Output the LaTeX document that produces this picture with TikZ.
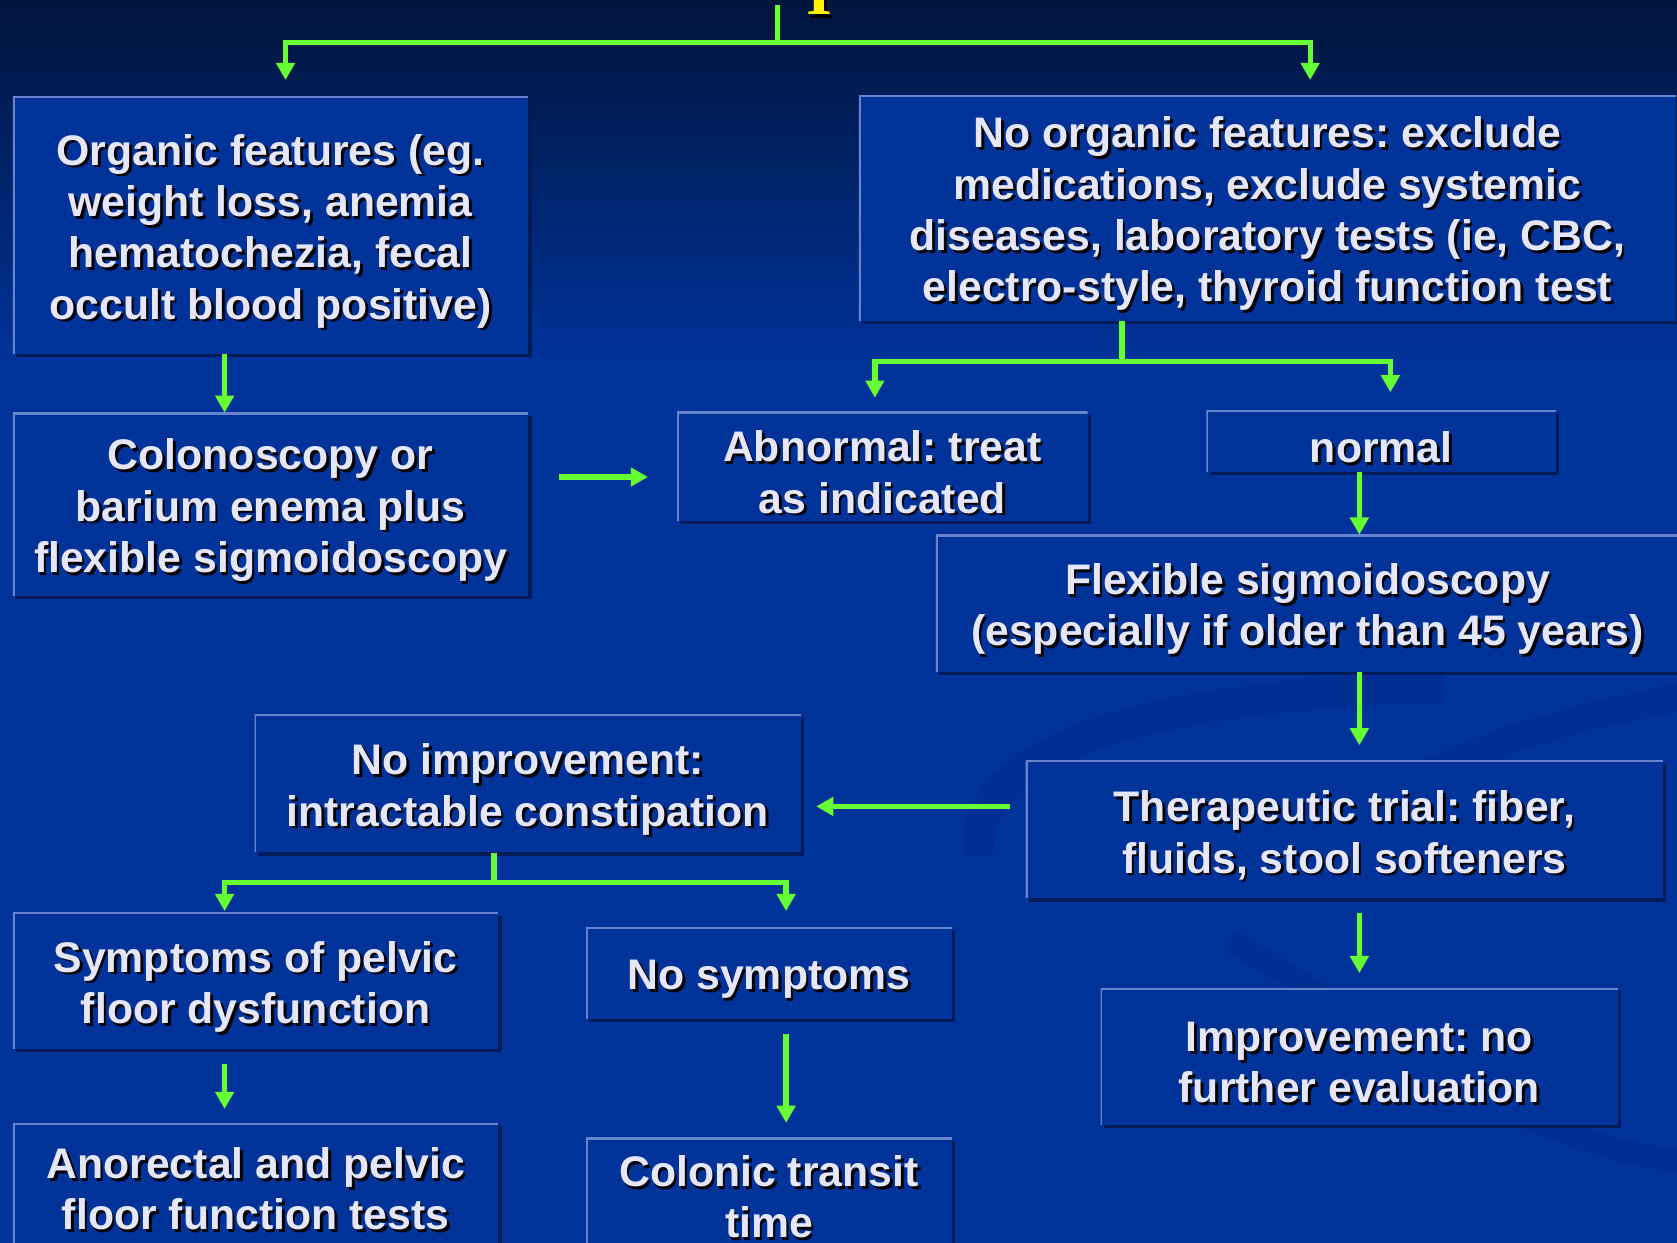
\documentclass[tikz,border=0pt]{standalone}
\usepackage{fontspec}
\setmainfont{Liberation Sans}
\newfontfamily\titlefont{Liberation Serif}
\usetikzlibrary{arrows.meta,shadows}
\frenchspacing

\definecolor{bgtop}{RGB}{0,20,60}
\definecolor{bgblue}{RGB}{0,51,153}
\definecolor{boxblue}{RGB}{0,51,153}
\definecolor{boxedge}{RGB}{104,132,204}
\definecolor{boxshade}{RGB}{0,28,88}
\definecolor{swirl}{RGB}{0,47,145}
\definecolor{flowgreen}{RGB}{102,255,51}
\definecolor{boxtxt}{RGB}{230,230,250}

\tikzset{
  boxfill/.style={fill=boxblue, inner sep=0pt,
    drop shadow={shadow xshift=3pt, shadow yshift=-3pt, fill=boxshade, opacity=1},
    path picture={\draw[boxedge, line width=3.5pt]
      (path picture bounding box.south west) -- (path picture bounding box.north west)
      -- (path picture bounding box.north east);}},
  boxtext/.style={text=boxtxt, align=center, inner sep=0pt,
    font=\bfseries\fontsize{40}{48}\selectfont},
  flow/.style={flowgreen, line width=5pt, -{Triangle[length=16pt,width=17pt]}},
}

% name, centre, width, height, text
\newcommand{\chartbox}[5]{%
  \node[boxfill, minimum width=#3, minimum height=#4] (#1) at (#2) {};
  \node[boxtext, text=black] at ([xshift=2.5pt,yshift=-8pt]#1.center) {#5};
  \node[boxtext] at ([yshift=-5.5pt]#1.center) {#5};
}

\begin{document}
\begin{tikzpicture}[x=1pt,y=-1pt]
  \useasboundingbox (0,0) rectangle (1568,1162);
  % background
  \fill[bgblue] (0,0) rectangle (1568,1162);
  \shade[top color=bgtop, bottom color=bgblue] (0,0) rectangle (1568,340);
  \draw[swirl, line width=30pt] (915,800) .. controls (905,690) and (1100,650) .. (1350,642);
  \draw[swirl, line width=26pt] (1330,725) .. controls (1420,685) and (1500,662) .. (1590,650);
  \draw[swirl, line width=22pt] (1150,880) .. controls (1300,960) and (1380,1060) .. (1590,1090);

  % title fragment
  \node[text=black, inner sep=0pt, anchor=base, font=\titlefont\bfseries\fontsize{62}{62}\selectfont] at (769,17) {I};
  \node[text=yellow, inner sep=0pt, anchor=base, font=\titlefont\bfseries\fontsize{62}{62}\selectfont] (title) at (766,14) {I};

  % boxes
  \chartbox{organic}{253,210.5}{482pt}{241pt}{Organic features (eg.\\weight loss, anemia\\hematochezia, fecal\\occult blood positive)}
  \chartbox{noorganic}{1185,194.5}{764pt}{211pt}{No organic features: exclude\\medications, exclude systemic\\diseases, laboratory tests (ie, CBC,\\electro-style, thyroid function test}
  \chartbox{colon}{253,471.5}{482pt}{171pt}{Colonoscopy or\\barium enema plus\\flexible sigmoidoscopy}
  \chartbox{abnormal}{825,436}{384pt}{102pt}{Abnormal: treat\\as indicated}
  \chartbox{normal}{1291.5,412.5}{327pt}{58pt}{normal}
  \chartbox{flexsig}{1222.5,564}{695pt}{128pt}{Flexible sigmoidoscopy\\(especially if older than 45 years)}
  \chartbox{trial}{1257,775.5}{596pt}{129pt}{Therapeutic trial: fiber,\\fluids, stool softeners}
  \chartbox{improve}{1271,988}{484pt}{128pt}{Improvement: no\\further evaluation}
  \chartbox{noimprove}{493.5,732.5}{511pt}{129pt}{No improvement:\\intractable constipation}
  \chartbox{pelvic}{239,917}{454pt}{128pt}{Symptoms of pelvic\\floor dysfunction}
  \chartbox{nosymptoms}{719,910}{342pt}{86pt}{No symptoms}
  \chartbox{anorectal}{239,1106}{454pt}{112pt}{Anorectal and pelvic\\floor function tests}
  \chartbox{transit}{719,1113.5}{342pt}{99pt}{Colonic transit\\time}

  % connectors
  \coordinate (start) at (727,5);
  \draw[flow] (start) -- ++(0,35) -| ([xshift=14pt,yshift=15pt]organic.north);
  \draw[flow] (start) -- ++(0,35) -| ([xshift=40pt,yshift=14pt]noorganic.north);
  \draw[flow] ([xshift=-43pt]organic.south) -- ([xshift=-43pt]colon.north);
  \coordinate (cd) at ([yshift=-10pt]abnormal.west);
  \draw[flow, shorten <=28pt, shorten >=27pt] (colon.east |- cd) -- (cd);
  \draw[flow] ([xshift=-136pt]noorganic.south) -- ++(0,38) -| ([xshift=-7pt,yshift=13pt]abnormal.north);
  \draw[flow] ([xshift=-136pt]noorganic.south) -- ++(0,38) -| ([xshift=8.5pt,yshift=16.5pt]normal.north);
  \draw[flow] ([xshift=-20.5pt]normal.south) -- ([xshift=48.5pt]flexsig.north);
  \draw[flow, shorten >=14pt] ([xshift=48.5pt]flexsig.south) -- ([xshift=14pt]trial.north);
  \draw[flow, shorten <=13pt, shorten >=14pt] ([xshift=14pt]trial.south) -- (improve.north);
  \coordinate (gi) at ([yshift=21.5pt]trial.west);
  \draw[flow, shorten <=14pt, shorten >=14pt] (gi) -- (noimprove.east |- gi);
  \draw[flow] ([xshift=-31.5pt]noimprove.south) -- ++(0,28) -| ([xshift=-29pt,yshift=1pt]pelvic.north);
  \draw[flow] ([xshift=-31.5pt]noimprove.south) -- ++(0,28) -| ([xshift=16pt,yshift=15pt]nosymptoms.north);
  \draw[flow, shorten <=14pt, shorten >=13pt] ([xshift=-29pt]pelvic.south) -- ([xshift=-29pt]anorectal.north);
  \draw[flow, shorten <=14pt, shorten >=14pt] ([xshift=16pt]nosymptoms.south) -- ([xshift=16pt]transit.north);
\end{tikzpicture}
\end{document}
